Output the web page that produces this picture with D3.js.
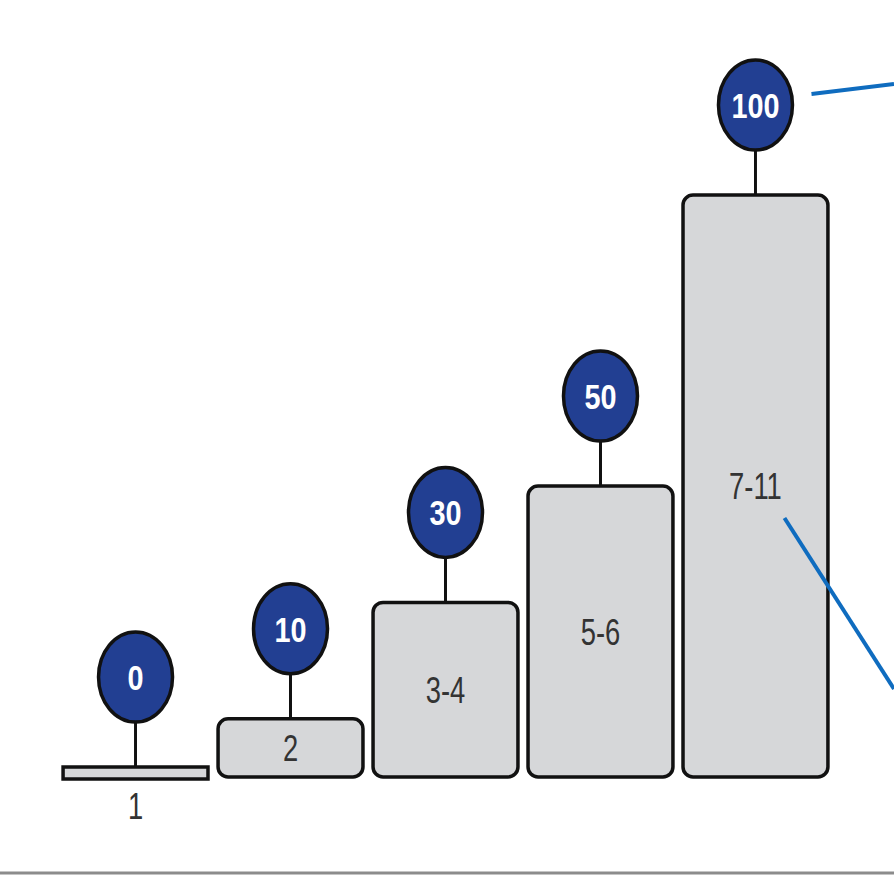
<!DOCTYPE html>
<html>
  <head>
    <meta charset="utf-8" />
    <title>Steps</title>
    <style>
      body { margin: 0; background: #fff; }
      .bar { fill: #d6d7d9; stroke: #111; stroke-width: 3.5px; }
      .stem { stroke: #111; stroke-width: 3px; }
      .badge { fill: #223f92; stroke: #111; stroke-width: 3.5px; }
      .val { fill: #fff; font-family: 'Liberation Sans', Arial, sans-serif; font-weight: bold; font-size: 36px; text-anchor: middle; }
      .cat { fill: #333; font-family: 'Liberation Sans', Arial, sans-serif; font-size: 37px; text-anchor: middle; }
      .pointer { stroke: #0f6cbf; stroke-width: 4px; fill: none; }
    </style>
    <script src="https://d3js.org/d3.v7.min.js"></script>
  </head>
  <body>
    <svg width="894" height="875"></svg>
    <script>
      // data
      var categories = ['1', '2', '3-4', '5-6', '7-11']
      var values = [0, 10, 30, 50, 100]

      var svg = d3.select('svg')
      var W = 894, H = 875

      var x = d3.scaleBand().domain(categories).range([53, 838])
        .paddingInner(0.065).paddingOuter(0.065)
      var y = d3.scaleLinear().domain([0, 100]).range([777, 195])

      var rows = categories.map(function (c, i) {
        return { cat: c, v: values[i] }
      })

      function barTop(d) {
        return d.v === 0 ? y(0) - 10 : y(d.v)
      }
      function cx(d) {
        return x(d.cat) + x.bandwidth() / 2
      }

      // bars
      svg.selectAll('.bar').data(rows).enter().append('rect')
        .attr('class', 'bar')
        .attr('x', function (d) { return x(d.cat) })
        .attr('y', barTop)
        .attr('width', x.bandwidth())
        .attr('height', function (d) { return d.v === 0 ? 12 : y(0) - y(d.v) })
        .attr('rx', function (d) { return d.v === 0 ? 0 : 10 })

      // stems + badges
      svg.selectAll('.stem').data(rows).enter().append('line')
        .attr('class', 'stem')
        .attr('x1', cx).attr('x2', cx)
        .attr('y1', function (d) { return barTop(d) - 44 })
        .attr('y2', function (d) { return barTop(d) })

      svg.selectAll('.badge').data(rows).enter().append('ellipse')
        .attr('class', 'badge')
        .attr('cx', cx)
        .attr('cy', function (d) { return barTop(d) - 90 })
        .attr('rx', 37)
        .attr('ry', 45)

      // condensed look: squeeze text horizontally
      svg.selectAll('.val').data(rows).enter().append('text')
        .attr('class', 'val')
        .attr('transform', function (d) {
          return 'translate(' + cx(d) + ',' + (barTop(d) - 90) + ') scale(0.8,1)'
        })
        .attr('dy', '0.36em')
        .text(function (d) { return d.v })

      // category labels (inside bar, below for the flat one)
      svg.selectAll('.cat').data(rows).enter().append('text')
        .attr('class', 'cat')
        .attr('transform', function (d) {
          var ty = d.v === 0 ? y(0) + 29 : (barTop(d) + y(0)) / 2
          return 'translate(' + cx(d) + ',' + ty + ') scale(0.74,1)'
        })
        .attr('dy', '0.36em')
        .text(function (d) { return d.cat })

      // blue pointer lines
      var last = rows[rows.length - 1]
      svg.append('line').attr('class', 'pointer')
        .attr('x1', cx(last) + 56).attr('y1', barTop(last) - 101)
        .attr('x2', W).attr('y2', barTop(last) - 111)
      svg.append('line').attr('class', 'pointer')
        .attr('x1', cx(last) + 29).attr('y1', (barTop(last) + y(0)) / 2 + 32)
        .attr('x2', W).attr('y2', (barTop(last) + y(0)) / 2 + 203)

      // bottom rule
      svg.append('line')
        .attr('x1', 0).attr('x2', W).attr('y1', 873).attr('y2', 873)
        .style('stroke', '#8c8c8c').style('stroke-width', 3)
    </script>
  </body>
</html>
